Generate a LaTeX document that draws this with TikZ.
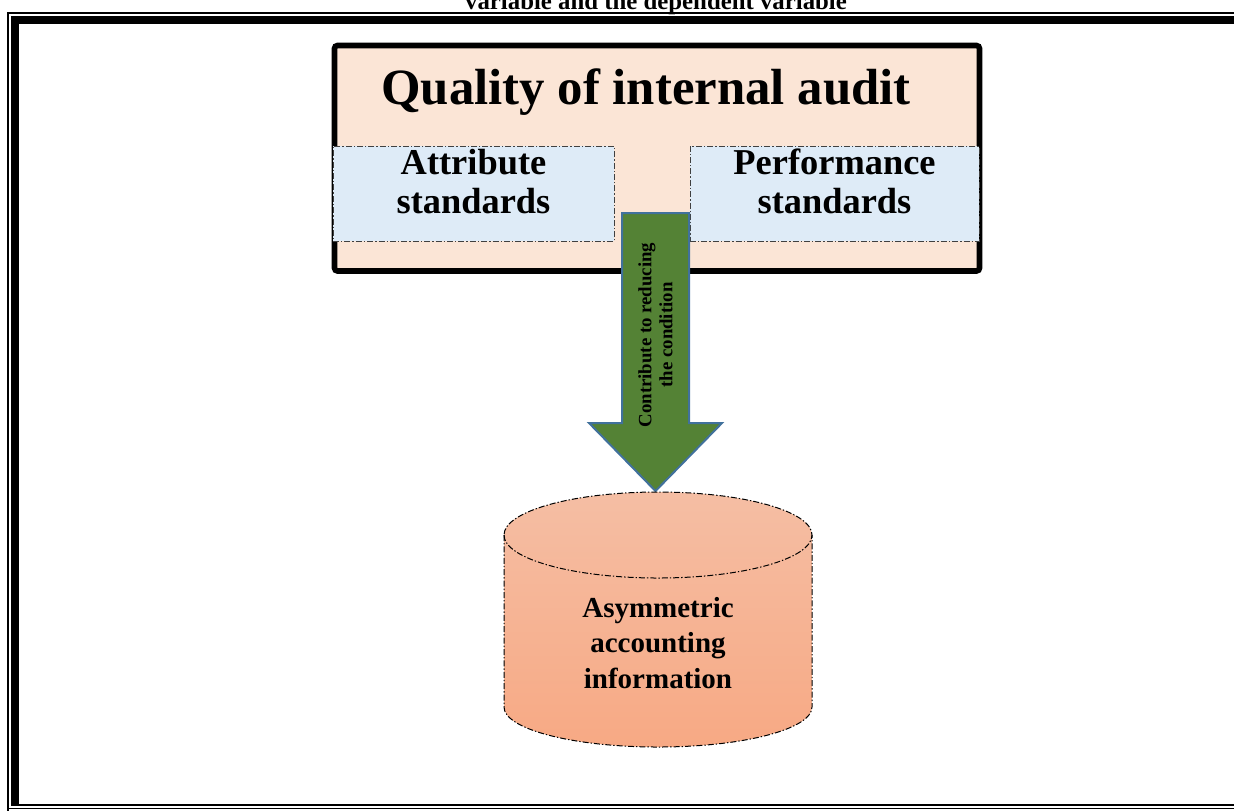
\documentclass[tikz,border=0pt]{standalone}
\usepackage{fontspec}
\setmainfont{Liberation Serif}
\usetikzlibrary{calc}

\definecolor{qualfill}{HTML}{FBE5D6}
\definecolor{stdfill}{HTML}{DEEBF7}
\definecolor{arrowfill}{HTML}{548235}
\definecolor{arrowedge}{HTML}{41719C}
\definecolor{cyltop}{HTML}{F5BEA4}
\definecolor{cylbottom}{HTML}{F7A984}

\begin{document}
\begin{tikzpicture}[x=0.5pt, y=-0.5pt,
		dashdot/.style={dash pattern=on 3pt off 1pt on 0.7pt off 1pt},
		stdbox/.style={draw=black!75, line width=0.5pt, dashdot, fill=stdfill,
			minimum width=140.5pt, minimum height=47.5pt, inner sep=0pt},
		stdtext/.style={align=center, font=\bfseries\fontsize{18.2}{19.6}\selectfont}]
		%%%%% START %%%%%
		\useasboundingbox (0,0) rectangle (1234,810);
		
		% caption, cut off at the top
		\node[anchor=base, font=\bfseries\fontsize{12.4}{14}\selectfont] (caption) at (656, 9) {variable and the dependent variable};
		
		% double frame
		\draw[line width=1pt] (7.5, 830) -- (7.5, 13) -- (1250, 13);
		\draw[line width=0.75pt] (7.5, 808.5) -- (1250, 808.5);
		\fill[black] (11, 16) rectangle (19, 806);
		\fill[black] (11, 16) rectangle (1250, 24);
		\fill[black] (11, 803.5) rectangle (1250, 806);
		
		% independent variable
		\draw[line width=2.8pt, fill=qualfill, rounded corners=1.5pt] (334.5, 45.5) rectangle (979.5, 271);
		\node[anchor=base, font=\bfseries\fontsize{25.4}{28}\selectfont] (quality) at (646, 104) {Quality of internal audit};
		\node[stdbox] (attr) at (473.5, 193.5) {};
		\node[stdbox, minimum width=144.5pt] (perf) at (834.5, 193.5) {};
		\node[stdtext] (attrtext) at ($(attr.north)+(0,36)$) {Attribute\\standards};
		\node[stdtext] (perftext) at ($(perf.north)+(0,36)$) {Performance\\standards};
		
		% block arrow
		\draw[line width=1pt, draw=arrowedge, fill=arrowfill, line join=miter]
			(622, 213) -- (689, 213) -- (689, 423) -- (722, 423) -- (655.5, 491)
			-- (589, 423) -- (622, 423) -- cycle;
		\node[rotate=90, align=center, font=\bfseries\fontsize{9.4}{10.5}\selectfont] (reduce) at (655.5, 335) {Contribute to reducing\\the condition};
		
		% dependent variable
		\draw[line width=0.5pt, dashdot, top color=cyltop, bottom color=cylbottom]
			(504, 535) -- (504, 707) arc (180:0:154 and 40) -- (812, 535)
			arc (0:-180:154 and 43) -- cycle;
		\draw[line width=0.5pt, dashdot] (504, 535) arc (180:0:154 and 43);
		\node[align=center, font=\bfseries\fontsize{14.5}{17.75}\selectfont] (info) at (658, 643) {Asymmetric\\accounting\\information};
		%%%%% END %%%%%
	\end{tikzpicture}
\end{document}
